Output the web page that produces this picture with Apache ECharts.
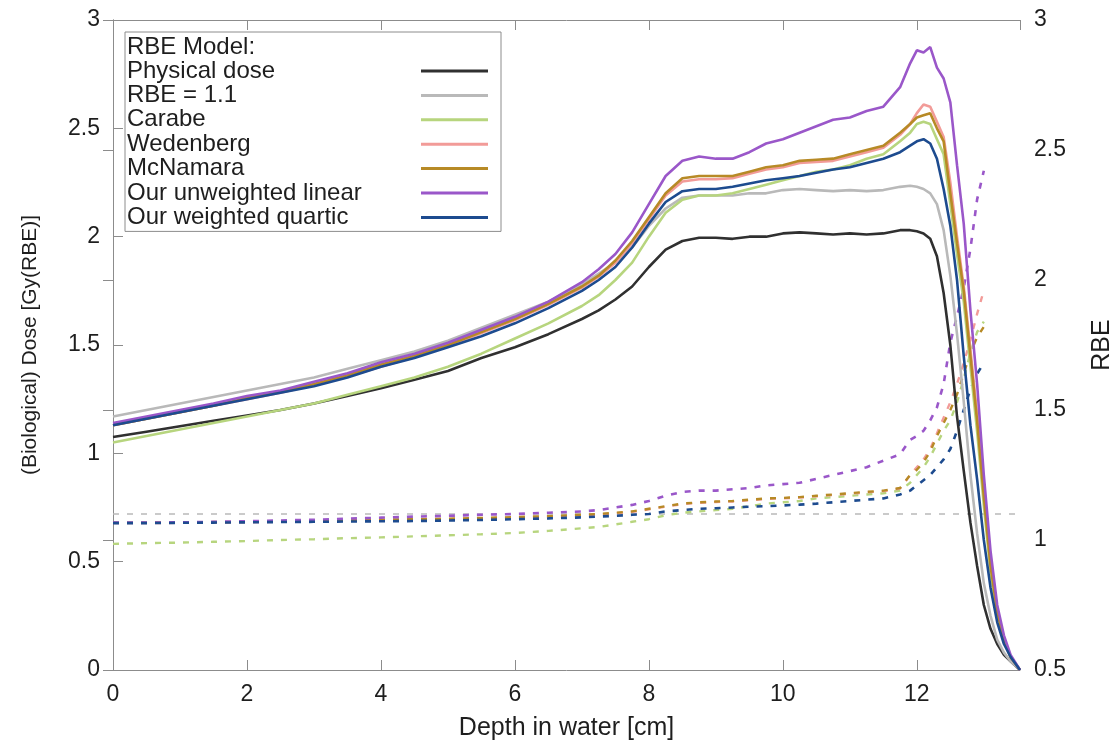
<!DOCTYPE html>
<html>
<head>
<meta charset="utf-8">
<script src="https://cdn.jsdelivr.net/npm/echarts@6/dist/echarts.min.js"></script>
<style>
html,body{margin:0;padding:0;background:#fff}
#chart{width:1115px;height:740px}
</style>
</head>
<body>
<div id="chart"></div>
<script>
// depth in water [cm]
const depth = [0,0.5,1,1.5,2,2.5,3,3.5,4,4.5,5,5.5,6,6.5,7,7.25,7.5,7.75,8,8.25,8.5,8.75,9,9.25,9.5,9.75,10,10.25,10.5,10.75,11,11.25,11.5,11.75,11.9,12.0,12.1,12.2,12.3,12.4,12.5,12.6,12.7,12.8,12.9,13.0,13.1,13.2,13.3,13.4,13.54]

// (biological) dose, left axis
const physical   = [1.075,1.10,1.125,1.15,1.175,1.20,1.23,1.265,1.30,1.34,1.38,1.44,1.49,1.55,1.62,1.66,1.71,1.77,1.86,1.94,1.98,1.995,1.995,1.99,2.0,2.0,2.015,2.02,2.015,2.01,2.015,2.01,2.015,2.03,2.03,2.025,2.015,1.99,1.91,1.74,1.50,1.17,0.92,0.68,0.48,0.30,0.19,0.12,0.07,0.04,0.0]
const rbe11      = [1.17,1.20,1.23,1.26,1.29,1.32,1.35,1.39,1.43,1.47,1.52,1.58,1.64,1.70,1.78,1.83,1.88,1.95,2.05,2.13,2.18,2.19,2.19,2.19,2.20,2.20,2.215,2.22,2.215,2.21,2.215,2.21,2.215,2.23,2.235,2.23,2.22,2.20,2.15,2.03,1.82,1.55,1.24,0.90,0.63,0.40,0.25,0.14,0.08,0.04,0.0]
const carabe     = [1.05,1.08,1.11,1.14,1.17,1.20,1.23,1.27,1.31,1.35,1.40,1.46,1.53,1.60,1.68,1.73,1.80,1.88,2.0,2.11,2.17,2.19,2.19,2.20,2.22,2.24,2.26,2.28,2.30,2.31,2.33,2.36,2.38,2.44,2.48,2.52,2.53,2.52,2.45,2.38,2.15,1.92,1.70,1.40,1.10,0.76,0.45,0.25,0.13,0.06,0.0]
const wedenberg  = [1.13,1.16,1.19,1.22,1.25,1.28,1.315,1.355,1.40,1.445,1.495,1.555,1.615,1.685,1.765,1.815,1.88,1.97,2.08,2.19,2.255,2.265,2.265,2.27,2.29,2.31,2.32,2.34,2.345,2.35,2.37,2.39,2.41,2.47,2.52,2.57,2.61,2.60,2.53,2.46,2.25,2.0,1.77,1.48,1.18,0.84,0.50,0.28,0.14,0.06,0.0]
const mcnamara   = [1.13,1.16,1.19,1.22,1.255,1.285,1.32,1.36,1.41,1.45,1.50,1.56,1.62,1.69,1.77,1.82,1.89,1.98,2.09,2.20,2.27,2.28,2.28,2.28,2.30,2.32,2.33,2.35,2.355,2.36,2.38,2.40,2.42,2.48,2.52,2.55,2.56,2.57,2.50,2.44,2.20,1.97,1.75,1.45,1.15,0.80,0.48,0.27,0.14,0.06,0.0]
const unweighted = [1.14,1.17,1.20,1.23,1.265,1.29,1.33,1.37,1.42,1.46,1.51,1.57,1.63,1.70,1.79,1.85,1.92,2.02,2.15,2.28,2.35,2.37,2.36,2.36,2.39,2.43,2.45,2.48,2.51,2.54,2.55,2.58,2.60,2.69,2.80,2.86,2.85,2.875,2.78,2.73,2.62,2.33,2.06,1.66,1.32,0.90,0.55,0.30,0.16,0.07,0.0]
const weighted   = [1.13,1.16,1.19,1.22,1.25,1.28,1.31,1.35,1.40,1.44,1.49,1.54,1.60,1.67,1.75,1.80,1.86,1.95,2.06,2.16,2.21,2.22,2.22,2.23,2.245,2.26,2.27,2.28,2.295,2.31,2.32,2.34,2.36,2.39,2.42,2.44,2.45,2.43,2.36,2.22,2.05,1.80,1.45,1.13,0.88,0.60,0.38,0.22,0.12,0.06,0.0]

// RBE, right axis (stop at 13.0 cm)
const rbeCarabe     = [0.985,0.988,0.99,0.993,0.996,1.0,1.003,1.007,1.01,1.014,1.018,1.022,1.027,1.035,1.045,1.05,1.06,1.07,1.08,1.095,1.105,1.11,1.115,1.12,1.13,1.14,1.145,1.15,1.16,1.165,1.17,1.175,1.18,1.19,1.22,1.25,1.28,1.32,1.37,1.42,1.46,1.53,1.62,1.72,1.80,1.84]
const rbeWedenberg  = [1.065,1.065,1.066,1.067,1.068,1.07,1.072,1.074,1.076,1.078,1.08,1.083,1.086,1.09,1.095,1.098,1.103,1.108,1.118,1.128,1.138,1.143,1.146,1.148,1.153,1.158,1.16,1.163,1.168,1.173,1.178,1.183,1.188,1.198,1.25,1.28,1.31,1.35,1.41,1.47,1.53,1.60,1.68,1.77,1.87,1.96]
const rbeMcNamara   = [1.067,1.067,1.068,1.069,1.07,1.072,1.074,1.076,1.078,1.08,1.082,1.085,1.088,1.092,1.097,1.10,1.105,1.11,1.12,1.13,1.14,1.145,1.148,1.15,1.155,1.16,1.162,1.165,1.17,1.175,1.18,1.185,1.19,1.20,1.25,1.27,1.30,1.34,1.40,1.45,1.50,1.56,1.64,1.72,1.78,1.82]
const rbeUnweighted = [1.067,1.067,1.068,1.07,1.072,1.075,1.078,1.082,1.086,1.09,1.093,1.097,1.10,1.105,1.11,1.115,1.125,1.135,1.15,1.17,1.185,1.19,1.19,1.195,1.20,1.21,1.215,1.22,1.235,1.25,1.265,1.28,1.305,1.33,1.385,1.40,1.42,1.46,1.51,1.60,1.76,1.86,1.97,2.12,2.31,2.42]
const rbeWeighted   = [1.065,1.065,1.066,1.067,1.068,1.069,1.07,1.071,1.072,1.073,1.075,1.077,1.08,1.083,1.087,1.09,1.093,1.097,1.10,1.11,1.115,1.12,1.122,1.125,1.128,1.13,1.133,1.136,1.14,1.145,1.15,1.155,1.16,1.175,1.19,1.21,1.23,1.25,1.28,1.31,1.35,1.42,1.50,1.58,1.64,1.68]
const rbeRefDepth = [0, 13.54]
const rbeRef = [1.1, 1.1]

const xTicks = [0, 2, 4, 6, 8, 10, 12]

const font = 'Liberation Sans, Arial, sans-serif'
const txt = '#1e1e1e'
const axisGray = '#8c8c8c'

const colors = {
  physical: '#303030',
  rbe11: '#b9b9b9',
  carabe: '#b7d57e',
  wedenberg: '#f29b98',
  mcnamara: '#b78a26',
  unweighted: '#9a57c9',
  weighted: '#1d4b8f'
}

function pairs(xs, ys) {
  return ys.map((v, i) => [xs[i], v])
}

function solid(name, ys, color) {
  return {
    name: name, type: 'line', yAxisIndex: 0, xAxisIndex: 0,
    data: pairs(depth, ys), symbol: 'none', z: 5,
    lineStyle: { color: color, width: 2.6 }, itemStyle: { color: color }
  }
}
function dashed(name, xs, ys, color, width) {
  return {
    name: name, type: 'line', yAxisIndex: 1, xAxisIndex: 0,
    data: pairs(xs, ys), symbol: 'none', z: 3,
    lineStyle: { color: color, width: width, type: [6, 8] }
  }
}

const chart = echarts.init(document.getElementById('chart'))

const legendNames = ['Physical dose', 'RBE = 1.1', 'Carabe', 'Wedenberg', 'McNamara', 'Our unweighted linear', 'Our weighted quartic']

const option = {
  backgroundColor: '#fff',
  animation: false,
  textStyle: { fontFamily: font },
  grid: { left: 113, right: 95, top: 20, bottom: 70, outerBoundsMode: 'none', containLabel: false },
  title: {
    text: 'RBE Model:', left: 127, top: 35, padding: 0,
    textStyle: { fontFamily: font, fontSize: 24, fontWeight: 'normal', color: txt }
  },
  legend: {
    data: legendNames,
    left: 125, top: 32,
    orient: 'vertical',
    align: 'right',
    selectedMode: false,
    padding: [27, 13, 2, 2],
    borderColor: axisGray, borderWidth: 1, backgroundColor: '#fff',
    icon: 'rect',
    itemWidth: 67, itemHeight: 3, itemGap: 0.4,
    formatter: name => '{a|' + name + '}',
    textStyle: {
      rich: { a: { width: 289, align: 'left', fontSize: 24, lineHeight: 27, fontFamily: font, color: txt } }
    }
  },
  xAxis: [
    {
      type: 'value', min: 0, max: 13.54, interval: 2, position: 'bottom',
      name: 'Depth in water [cm]', nameLocation: 'middle', nameGap: 46,
      nameTextStyle: { fontSize: 25, color: txt, fontFamily: font },
      axisLine: { show: true, lineStyle: { color: axisGray } },
      axisTick: { show: true, inside: true, length: 10, lineStyle: { color: axisGray } },
      axisLabel: {
        fontSize: 23, color: txt, margin: 13, fontFamily: font, showMaxLabel: false,
        formatter: v => (xTicks.indexOf(v) >= 0 ? String(v) : '')
      },
      splitLine: { show: false }
    },
    {
      type: 'value', min: 0, max: 13.54, interval: 2, position: 'top',
      axisLine: { show: true, lineStyle: { color: axisGray } },
      axisTick: { show: true, inside: true, length: 10, lineStyle: { color: axisGray } },
      axisLabel: { show: false },
      splitLine: { show: false }
    }
  ],
  yAxis: [
    {
      type: 'value', min: 0, max: 3, interval: 0.5, position: 'left',
      name: '(Biological) Dose [Gy(RBE)]', nameLocation: 'middle', nameGap: 72,
      nameTextStyle: { fontSize: 21, color: txt, fontFamily: font },
      axisLine: { show: true, lineStyle: { color: axisGray } },
      axisTick: { show: true, inside: true, length: 10, lineStyle: { color: axisGray } },
      axisLabel: { fontSize: 23, color: txt, margin: 13, fontFamily: font },
      splitLine: { show: false }
    },
    {
      type: 'value', min: 0.5, max: 3, interval: 0.5, position: 'right',
      name: 'RBE', nameLocation: 'middle', nameGap: 70,
      nameTextStyle: { fontSize: 25, color: txt, fontFamily: font },
      axisLine: { show: true, lineStyle: { color: axisGray } },
      axisTick: { show: true, inside: true, length: 10, lineStyle: { color: axisGray } },
      axisLabel: { fontSize: 23, color: txt, margin: 14, fontFamily: font },
      splitLine: { show: false }
    }
  ],
  series: [
    dashed('RBE ref', rbeRefDepth, rbeRef, colors.rbe11, 1.6),
    dashed('RBE Carabe', depth, rbeCarabe, colors.carabe, 2.4),
    dashed('RBE Wedenberg', depth, rbeWedenberg, colors.wedenberg, 2.4),
    dashed('RBE McNamara', depth, rbeMcNamara, colors.mcnamara, 2.4),
    dashed('RBE unweighted', depth, rbeUnweighted, colors.unweighted, 2.6),
    dashed('RBE weighted', depth, rbeWeighted, colors.weighted, 2.6),
    solid('Physical dose', physical, colors.physical),
    solid('RBE = 1.1', rbe11, colors.rbe11),
    solid('Carabe', carabe, colors.carabe),
    solid('Wedenberg', wedenberg, colors.wedenberg),
    solid('McNamara', mcnamara, colors.mcnamara),
    solid('Our unweighted linear', unweighted, colors.unweighted),
    solid('Our weighted quartic', weighted, colors.weighted)
  ]
}

chart.setOption(option)
</script>
</body>
</html>
